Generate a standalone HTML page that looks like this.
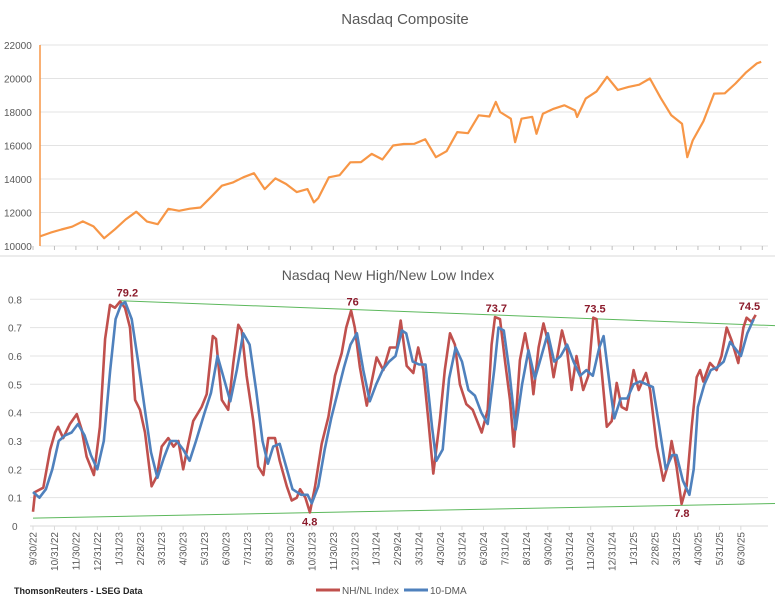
<!DOCTYPE html>
<html><head><meta charset="utf-8">
<style>
html,body{margin:0;padding:0;background:#fff;}
svg{display:block;font-family:"Liberation Sans",Arial,sans-serif;}
</style></head>
<body>
<svg id="chart" width="775" height="600" viewBox="0 0 775 600">
<rect x="0" y="0" width="775" height="600" fill="#fff"/>
<line x1="0" y1="256" x2="775" y2="256" stroke="#d9d9d9"/>
<text x="405" y="24" font-size="15" fill="#595959" text-anchor="middle">Nasdaq Composite</text>
<text x="388" y="280" font-size="14" fill="#595959" text-anchor="middle">Nasdaq New High/New Low Index</text>
<g id="topChart"></g>
<g id="botChart"></g>
<text x="14" y="594" font-size="9" font-weight="bold" fill="#222">ThomsonReuters - LSEG Data</text>
<line x1="316" y1="590" x2="340" y2="590" stroke="#C0504D" stroke-width="3"/>
<text x="342" y="594" font-size="10" fill="#595959">NH/NL Index</text>
<line x1="404" y1="590" x2="428" y2="590" stroke="#4F81BD" stroke-width="3"/>
<text x="430" y="594" font-size="10" fill="#595959">10-DMA</text>
</svg>
<script>
const NS="http://www.w3.org/2000/svg";
const nasdaqMonths=[0,0.5,1,1.5,2,2.5,3,3.5,4,4.5,5,5.5,6,6.5,7,7.5,8,8.5,9,9.5,10,10.5,11,11.5,12,12.5,12.8,13,13.5,14,14.5,15,15.5,16,16.5,17,17.5,18,18.5,19,19.5,20,20.5,21,21.3,21.5,22,22.2,22.5,23,23.2,23.5,24,24.5,25,25.1,25.5,26,26.5,27,27.5,28,28.5,29,29.5,30,30.25,30.5,31,31.5,32,32.5,33,33.5,33.7];
const nasdaqValues=[10575,10800,10988,11150,11468,11170,10466,11000,11585,12050,11456,11300,12222,12100,12226,12300,12935,13600,13788,14100,14346,13400,14035,13700,13219,13400,12600,12851,14100,14226,15000,15011,15500,15164,16000,16092,16100,16379,15300,15658,16800,16735,17800,17733,18600,18000,17599,16200,17600,17714,16700,17900,18189,18400,18095,17700,18800,19218,20100,19311,19500,19627,20000,18847,17800,17299,15300,16300,17446,19100,19114,19700,20370,20900,21000];
const topTicks=[10000,12000,14000,16000,18000,20000,22000];
const redMonths=[0,0.1,0.48,0.8,1.03,1.17,1.41,1.72,2.04,2.27,2.5,2.84,3.12,3.36,3.59,3.82,4.06,4.29,4.52,4.76,4.99,5.22,5.53,5.77,6.0,6.31,6.55,6.78,7.0,7.24,7.47,7.86,8.1,8.38,8.53,8.8,9.1,9.34,9.57,9.73,9.96,10.27,10.5,10.74,10.97,11.28,11.5,11.83,12.06,12.3,12.45,12.7,12.91,13.15,13.46,13.77,14.08,14.39,14.6,14.83,15.0,15.24,15.56,16.02,16.33,16.64,16.96,17.14,17.42,17.73,17.96,18.2,18.43,18.66,18.97,19.2,19.44,19.67,19.9,20.2,20.5,20.92,21.2,21.38,21.54,21.77,22.0,22.24,22.42,22.7,22.94,23.17,23.33,23.57,23.8,24.04,24.27,24.66,24.9,25.11,25.34,25.65,25.89,26.12,26.27,26.51,26.75,26.98,27.21,27.44,27.68,28.0,28.24,28.58,28.77,29.08,29.39,29.62,29.77,30.0,30.24,30.47,30.71,30.94,31.1,31.25,31.56,31.87,32.1,32.34,32.57,32.88,33.12,33.27,33.5,33.69];
const redValues=[0.05,0.12,0.135,0.27,0.33,0.35,0.31,0.36,0.395,0.34,0.245,0.18,0.35,0.66,0.78,0.77,0.792,0.77,0.70,0.445,0.41,0.33,0.14,0.175,0.28,0.31,0.28,0.30,0.20,0.29,0.37,0.42,0.465,0.67,0.66,0.445,0.41,0.575,0.71,0.69,0.53,0.37,0.21,0.18,0.31,0.31,0.23,0.14,0.09,0.10,0.13,0.10,0.048,0.14,0.29,0.385,0.53,0.61,0.70,0.76,0.70,0.56,0.425,0.595,0.55,0.63,0.63,0.725,0.565,0.54,0.63,0.55,0.375,0.185,0.375,0.55,0.68,0.64,0.50,0.43,0.41,0.33,0.41,0.64,0.737,0.73,0.585,0.445,0.28,0.585,0.68,0.585,0.465,0.63,0.715,0.64,0.525,0.69,0.62,0.48,0.60,0.48,0.53,0.735,0.73,0.55,0.35,0.37,0.505,0.42,0.41,0.55,0.48,0.54,0.48,0.28,0.16,0.22,0.30,0.21,0.078,0.14,0.35,0.525,0.55,0.51,0.575,0.55,0.60,0.70,0.655,0.575,0.70,0.735,0.72,0.745];
const blueMonths=[0,0.3,0.6,0.9,1.2,1.5,1.8,2.1,2.4,2.7,3.0,3.3,3.6,3.85,4.1,4.3,4.6,4.9,5.2,5.5,5.8,6.1,6.4,6.7,7.0,7.3,7.6,8.0,8.3,8.6,8.9,9.2,9.5,9.8,10.1,10.4,10.7,10.95,11.2,11.5,11.8,12.1,12.5,12.8,13.0,13.3,13.6,13.9,14.2,14.5,14.8,15.1,15.4,15.7,16.0,16.3,16.6,16.9,17.2,17.4,17.7,18.0,18.3,18.6,18.8,19.1,19.4,19.7,20.0,20.3,20.6,20.9,21.2,21.5,21.7,21.95,22.2,22.5,22.8,23.1,23.4,23.7,24.0,24.3,24.6,24.9,25.2,25.5,25.8,26.1,26.4,26.6,26.9,27.1,27.4,27.7,28.0,28.3,28.6,28.9,29.2,29.5,29.8,30.0,30.3,30.6,30.8,31.0,31.3,31.6,31.9,32.2,32.5,32.8,33.0,33.3,33.6];
const blueValues=[0.12,0.10,0.13,0.20,0.30,0.32,0.33,0.36,0.32,0.25,0.20,0.30,0.55,0.73,0.78,0.79,0.73,0.58,0.42,0.26,0.17,0.24,0.30,0.30,0.27,0.23,0.30,0.40,0.47,0.60,0.52,0.44,0.55,0.68,0.64,0.48,0.30,0.22,0.28,0.29,0.21,0.13,0.11,0.11,0.08,0.14,0.27,0.38,0.47,0.56,0.64,0.68,0.55,0.44,0.50,0.55,0.58,0.60,0.69,0.68,0.58,0.57,0.57,0.35,0.23,0.27,0.52,0.63,0.58,0.48,0.46,0.40,0.36,0.55,0.70,0.69,0.55,0.34,0.50,0.62,0.52,0.60,0.68,0.58,0.60,0.64,0.58,0.53,0.55,0.53,0.63,0.67,0.49,0.38,0.45,0.45,0.50,0.51,0.50,0.49,0.35,0.20,0.25,0.25,0.16,0.11,0.20,0.42,0.50,0.55,0.56,0.58,0.65,0.62,0.60,0.68,0.73];
const botTicks=[0,0.1,0.2,0.3,0.4,0.5,0.6,0.7,0.8];
const monthLabels=["9/30/22","10/31/22","11/30/22","12/31/22","1/31/23","2/28/23","3/31/23","4/30/23","5/31/23","6/30/23","7/31/23","8/31/23","9/30/23","10/31/23","11/30/23","12/31/23","1/31/24","2/29/24","3/31/24","4/30/24","5/31/24","6/30/24","7/31/24","8/31/24","9/30/24","10/31/24","11/30/24","12/31/24","1/31/25","2/28/25","3/31/25","4/30/25","5/31/25","6/30/25"];
const trendTopM=[4.06,34.9], trendTopV=[0.795,0.706];
const trendBotM=[0,34.9], trendBotV=[0.028,0.08];
const annM=[4.4,14.9,21.6,26.2,12.9,30.25,33.4];
const annV=[0.792,0.76,0.737,0.735,0.048,0.078,0.745];
const annText=["79.2","76","73.7","73.5","4.8","7.8","74.5"];
const annBelow=[false,false,false,false,true,true,false];

function mk(tag,attrs,parent){const e=document.createElementNS(NS,tag);for(const k in attrs)e.setAttribute(k,attrs[k]);parent.appendChild(e);return e;}
const topG=document.getElementById('topChart'), botG=document.getElementById('botChart');
const tx=m=>40+21.4*m, ty=v=>246-(v-10000)*201/12000;
topTicks.forEach(t=>{
  const l=mk('line',{x1:40,x2:768,y1:ty(t),y2:ty(t),stroke:'#e3e3e3'},topG);
  
  
  const tt=mk('text',{x:4,y:ty(t)+4,'font-size':10,fill:'#595959'},topG);tt.textContent=t;
  
  
});
for(let i=0;i<=34;i++){const x=33+21.45*i;const tk=mk('line',{x1:x,x2:x,y1:246,y2:250,stroke:'#bfbfbf'},topG);
  
  }
const ax=mk('line',{x1:40,x2:40,y1:45,y2:246,stroke:'#F79646','stroke-width':1.5},topG);


const np=mk('polyline',{points:nasdaqMonths.map((m,i)=>tx(m).toFixed(1)+','+ty(nasdaqValues[i]).toFixed(1)).join(' '),fill:'none',stroke:'#F79646','stroke-width':2.2,'stroke-linejoin':'round'},topG);


const bx=m=>33+21.45*m, by=v=>526-v*283.4;
botTicks.forEach(t=>{
  if(t>0){const l=mk('line',{x1:30,x2:768,y1:by(t),y2:by(t),stroke:'#e3e3e3'},botG);
  
  }
  const tt=mk('text',{x:t===0?12:8,y:by(t)+4,'font-size':10,fill:'#595959'},botG);tt.textContent=t===0?'0':t.toFixed(1);
  
  
});
const bax=mk('line',{x1:30,x2:768,y1:526,y2:526,stroke:'#d9d9d9'},botG);


monthLabels.forEach((s,i)=>{
  const x=bx(i);
  const tk=mk('line',{x1:x,x2:x,y1:526,y2:530,stroke:'#d9d9d9'},botG);
  
  
  const t=mk('text',{x:0,y:0,'font-size':10,fill:'#595959','text-anchor':'end',transform:`translate(${x+3.5},532) rotate(-90)`},botG);t.textContent=s;
  
  
});
function trend(M,V,name){const l=mk('line',{x1:bx(M[0]),y1:by(V[0]),x2:bx(M[1]),y2:by(V[1]),stroke:'#5CB85C','stroke-width':1},botG);
  
  }
trend(trendTopM,trendTopV,'upper-trendline');
trend(trendBotM,trendBotV,'lower-trendline');
const rp=mk('polyline',{points:redMonths.map((m,i)=>bx(m).toFixed(1)+','+by(redValues[i]).toFixed(1)).join(' '),fill:'none',stroke:'#C0504D','stroke-width':2.6,'stroke-linejoin':'round'},botG);


const bp=mk('polyline',{points:blueMonths.map((m,i)=>bx(m).toFixed(1)+','+by(blueValues[i]).toFixed(1)).join(' '),fill:'none',stroke:'#4F81BD','stroke-width':2.6,'stroke-linejoin':'round'},botG);


annText.forEach((s,i)=>{
  const y=annBelow[i]?by(annV[i])+13:by(annV[i])-5;
  const t=mk('text',{x:bx(annM[i]),y:y,'font-size':11,'font-weight':'bold',fill:'#8B1A2B','text-anchor':'middle'},botG);t.textContent=s;
  
  
});
</script>
</body></html>
